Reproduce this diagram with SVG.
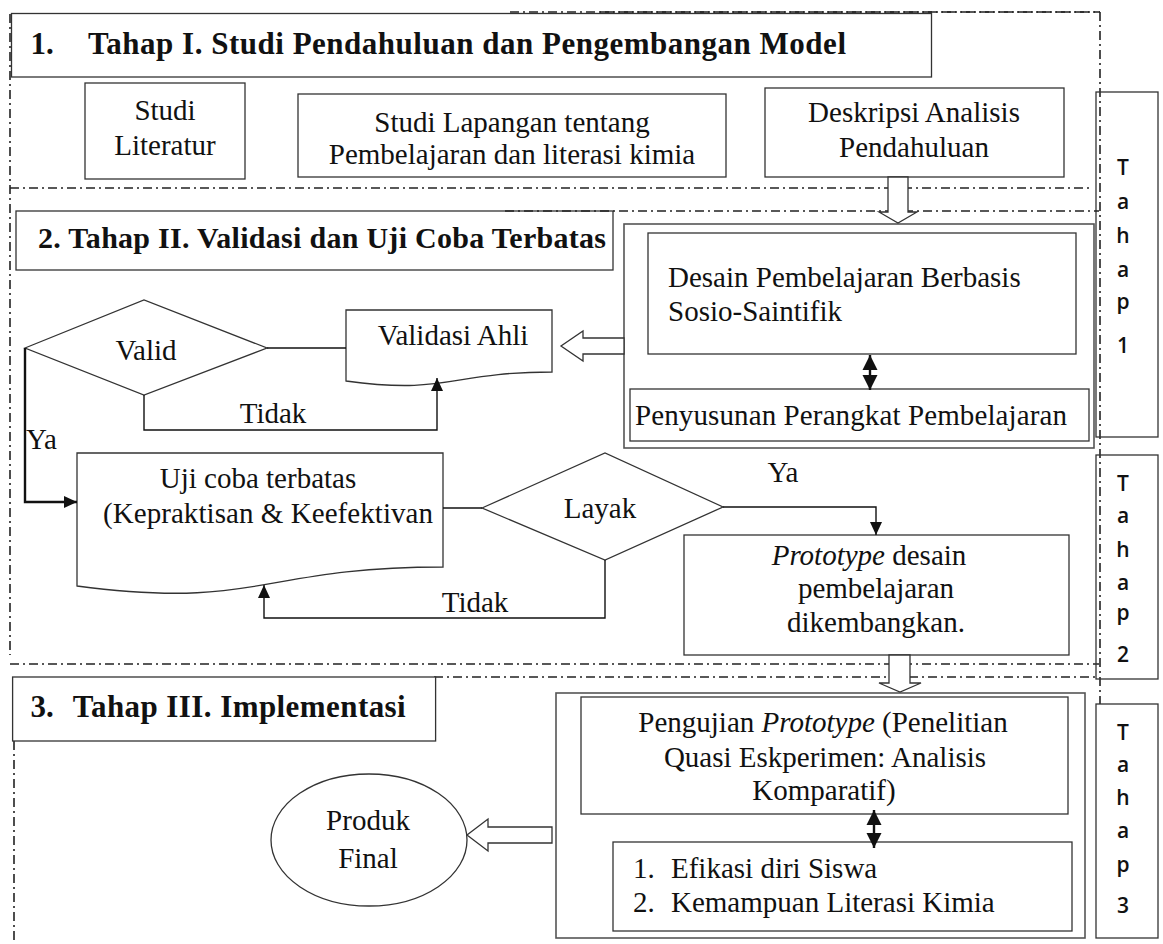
<svg xmlns="http://www.w3.org/2000/svg" width="1163" height="944" viewBox="0 0 1163 944">
<style>
 .bx{fill:#fff;stroke:#333;stroke-width:1.3}
 .bxn{fill:none;stroke:#333;stroke-width:1.3}
 .ct{fill:none;stroke:#555;stroke-width:1.6}
 .dd{fill:none;stroke:#222;stroke-width:1.6;stroke-dasharray:9 4 2 4}
 .t{font-family:"Liberation Serif","Times New Roman",serif;font-size:29px;fill:#111}
 .tb{font-family:"Liberation Serif","Times New Roman",serif;font-size:31px;font-weight:bold;fill:#111}
 .ts{font-family:"Open Sans","Liberation Sans",sans-serif;font-size:21px;font-weight:600;fill:#111;text-anchor:middle}
 .m{text-anchor:middle}
 .ln{fill:none;stroke:#111;stroke-width:1.4}
 .lt{fill:none;stroke:#111;stroke-width:2.4}
 .ba{fill:#fff;stroke:#333;stroke-width:1.3}
</style>
<defs>
 <marker id="ah" markerUnits="userSpaceOnUse" markerWidth="14" markerHeight="14" viewBox="0 0 14 14" refX="13" refY="7" orient="auto-start-reverse">
  <path d="M0,1 L13,7 L0,13 Z" fill="#111"/>
 </marker>
 <marker id="dh" markerUnits="userSpaceOnUse" markerWidth="16" markerHeight="16" viewBox="0 0 16 16" refX="15" refY="8" orient="auto-start-reverse">
  <path d="M0,0.5 L15,8 L0,15.5 Z" fill="#111"/>
 </marker>
</defs>
<rect width="1163" height="944" fill="#fff"/>

<g id="section-frames">
 <line class="dd" x1="510" y1="12" x2="1100" y2="12"/>
 <line class="dd" x1="1100" y1="12" x2="1100" y2="704"/>
 <line class="dd" x1="10" y1="14" x2="10" y2="655"/>
 <line class="dd" x1="10" y1="188" x2="1090" y2="188"/>
 <line class="dd" x1="10" y1="664" x2="1099" y2="664"/>
 <line class="dd" x1="14" y1="722" x2="14" y2="944"/>
</g>

<g id="tahap-boxes">
 <rect class="bxn" x="1096" y="92" width="62" height="345"/>
 <rect class="bxn" x="1096" y="455" width="62" height="224"/>
 <rect class="bx" x="1096" y="704" width="62" height="234"/>
 <text class="ts"><tspan x="1123" y="175">T</tspan><tspan x="1123" y="209">a</tspan><tspan x="1123" y="243">h</tspan><tspan x="1123" y="277">a</tspan><tspan x="1123" y="309">p</tspan><tspan x="1123" y="353">1</tspan></text>
 <text class="ts"><tspan x="1123" y="491">T</tspan><tspan x="1123" y="523">a</tspan><tspan x="1123" y="557">h</tspan><tspan x="1123" y="590">a</tspan><tspan x="1123" y="620">p</tspan><tspan x="1123" y="662">2</tspan></text>
 <text class="ts"><tspan x="1123" y="740">T</tspan><tspan x="1123" y="772">a</tspan><tspan x="1123" y="805">h</tspan><tspan x="1123" y="838">a</tspan><tspan x="1123" y="872">p</tspan><tspan x="1123" y="913">3</tspan></text>
</g>

<g id="title1">
 <rect class="bx" x="11.5" y="13.5" width="920" height="63.5"/>
 <text class="tb" x="30.6" y="54">1.</text>
 <text class="tb" x="88" y="54" textLength="758" lengthAdjust="spacing">Tahap I. Studi Pendahuluan dan Pengembangan Model</text>
</g>
<line class="dd" x1="600" y1="12" x2="1100" y2="12"/>

<g id="studi-literatur">
 <rect class="bx" x="85" y="83" width="160" height="96"/>
 <text class="t m" x="165" y="120">Studi</text>
 <text class="t m" x="165" y="155">Literatur</text>
</g>
<g id="studi-lapangan">
 <rect class="bx" x="298" y="94" width="428" height="83"/>
 <text class="t m" x="512" y="132">Studi Lapangan tentang</text>
 <text class="t m" x="512" y="164">Pembelajaran dan literasi kimia</text>
</g>
<g id="deskripsi">
 <rect class="bx" x="765" y="88" width="299" height="89"/>
 <text class="t m" x="914" y="122">Deskripsi Analisis</text>
 <text class="t m" x="914" y="157">Pendahuluan</text>
</g>

<g id="title2">
 <rect class="bx" x="16" y="211" width="597" height="59"/>
 <text class="tb" x="38" y="248" style="font-size:30px" textLength="568" lengthAdjust="spacing">2. Tahap II. Validasi dan Uji Coba Terbatas</text>
</g>
<line class="dd" x1="505" y1="211" x2="1099" y2="211"/>

<g id="tahap1-container">
 <rect class="ct" x="624" y="224" width="470" height="224"/>
</g>
<g id="desain">
 <rect class="bx" x="648" y="233" width="428" height="121"/>
 <text class="t" x="668" y="287">Desain Pembelajaran Berbasis</text>
 <text class="t" x="668" y="321">Sosio-Saintifik</text>
</g>
<g id="penyusunan">
 <rect class="bx" x="630" y="389" width="459" height="52"/>
 <text class="t" x="635" y="425" textLength="432" lengthAdjust="spacing">Penyusunan Perangkat Pembelajaran</text>
</g>

<g id="valid">
 <polygon class="bx" points="25,348 144,300 267,348 144,395"/>
 <text class="t m" x="146" y="360">Valid</text>
</g>
<g id="validasi-ahli">
 <path class="bx" d="M346,310 H552 V372 C449,372 449,395 346,381 Z"/>
 <text class="t m" x="453" y="345">Validasi Ahli</text>
</g>

<g id="uji-coba">
 <path class="bx" d="M77,453 H443 V567 C260,567 260,610 77,586 Z"/>
 <text class="t m" x="258" y="488">Uji coba terbatas</text>
 <text class="t" x="103" y="523" textLength="330" lengthAdjust="spacing">(Kepraktisan &amp; Keefektivan</text>
</g>
<g id="layak">
 <polygon class="bx" points="482,508 605,453 723,507 605,560"/>
 <text class="t m" x="600" y="518">Layak</text>
</g>
<g id="prototype">
 <rect class="bx" x="684" y="535" width="385" height="120"/>
 <text class="t m" x="869" y="565"><tspan font-style="italic">Prototype</tspan> desain</text>
 <text class="t m" x="876" y="598">pembelajaran</text>
 <text class="t m" x="876" y="632">dikembangkan.</text>
</g>

<line class="dd" x1="434" y1="677" x2="1096" y2="677"/>
<g id="title3">
 <rect class="bx" x="12.6" y="677" width="423" height="64"/>
 <text class="tb" x="30.6" y="717">3.</text>
 <text class="tb" x="72.7" y="717" textLength="333" lengthAdjust="spacing">Tahap III. Implementasi</text>
</g>

<g id="tahap3-container">
 <rect class="ct" x="556" y="693" width="529" height="245"/>
</g>
<g id="pengujian">
 <rect class="bx" x="581" y="697" width="487" height="117"/>
 <text class="t m" x="823" y="732">Pengujian <tspan font-style="italic">Prototype</tspan> (Penelitian</text>
 <text class="t m" x="825" y="767">Quasi Eskperimen: Analisis</text>
 <text class="t m" x="824" y="800">Komparatif)</text>
</g>
<g id="efikasi">
 <rect class="bx" x="613" y="842" width="459" height="89"/>
 <text class="t" x="633" y="878">1.</text>
 <text class="t" x="671" y="878">Efikasi diri Siswa</text>
 <text class="t" x="633" y="912">2.</text>
 <text class="t" x="671" y="912">Kemampuan Literasi Kimia</text>
</g>
<g id="produk-final">
 <ellipse class="bx" cx="369" cy="840" rx="98" ry="66"/>
 <text class="t m" x="368" y="830">Produk</text>
 <text class="t m" x="368" y="868">Final</text>
</g>

<g id="connectors">
 <polygon class="ba" points="888,177 908,177 908,212 917,212 898,223 879,212 888,212"/>
 <polygon class="ba" points="889,655 910,655 910,683 921,683 900,692 879,683 889,683"/>
 <polygon class="ba" points="624,338 583,338 583,331 561,346 583,361 583,354 624,354"/>
 <polygon class="ba" points="552,827 488,827 488,819 467,835 488,851 488,843 552,843"/>
 <line class="ln" x1="267" y1="348" x2="346" y2="348"/>
 <polyline class="ln" points="144,395 144,430 437,430 437,378" marker-end="url(#ah)"/>
 <polyline class="lt" points="25,348 25,502 77,502" marker-end="url(#ah)"/>
 <text class="t" x="26" y="449">Ya</text>
 <text class="t m" x="273" y="423">Tidak</text>
 <line class="ln" x1="443" y1="508" x2="482" y2="508"/>
 <polyline class="ln" points="723,507 876,507 876,535" marker-end="url(#ah)"/>
 <text class="t m" x="783" y="482">Ya</text>
 <polyline class="ln" points="605,560 605,618 264,618 264,585" marker-end="url(#ah)"/>
 <text class="t m" x="475" y="612">Tidak</text>
 <line class="lt" x1="870" y1="355" x2="870" y2="390" marker-start="url(#dh)" marker-end="url(#dh)"/>
 <line class="lt" x1="874" y1="810" x2="874" y2="848" marker-start="url(#dh)" marker-end="url(#dh)"/>
</g>
</svg>
